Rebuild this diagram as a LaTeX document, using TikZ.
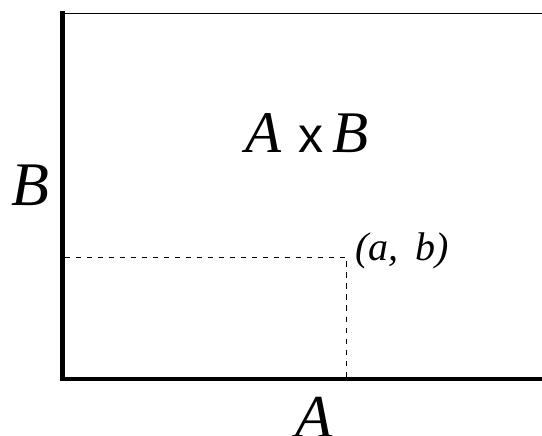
\documentclass[tikz,border=0pt]{standalone}
\usepackage{fontspec}
\setmainfont{Liberation Serif}
\newfontfamily\sansf{Liberation Sans}
\begin{document}
\begin{tikzpicture}[x=1pt,y=-1pt,
  lbl/.style={inner sep=0pt,anchor=base,font=\itshape},
  axisline/.style={line width=4.2pt},
  guide/.style={line width=0.9pt,dash pattern=on 5.5pt off 5.5pt}]
\useasboundingbox (0,0) rectangle (542,436);
\fill[white] (0,0) rectangle (542,436);
% frame
\coordinate (tl) at (62.5,13.3);
\coordinate (tr) at (542,13.3);
\coordinate (bl) at (62.5,379);
\coordinate (br) at (542,379);
\draw[line width=1.5pt] (tl) -- (tr);
\draw[axisline] (tl |- 0,11) -- (bl) -- (br);
% point and guides
\coordinate (p) at (346,257);
\coordinate (pa) at (346,377);
\coordinate (pb) at (64.5,257);
\draw[guide] (pb) -- (p) -- (pa);
% labels
\node[lbl,font=\itshape\fontsize{62}{62}\selectfont] (labB) at (30,205.5) {B};
\node[lbl,font=\itshape\fontsize{61}{61}\selectfont] (labA) at (314,437.5) {A};
\node[lbl,font=\itshape\fontsize{59}{59}\selectfont] (prodA) at (264,153) {A};
\node[lbl,font=\sansf\fontsize{50}{50}\selectfont] (prodx) at (310.5,153) {x};
\node[lbl,font=\itshape\fontsize{59}{59}\selectfont] (prodB) at (351,153) {B};
\node[lbl,anchor=base west,font=\itshape\fontsize{40}{40}\selectfont] (pt) at (355,261) {(a, \,b)};
\end{tikzpicture}
\end{document}
